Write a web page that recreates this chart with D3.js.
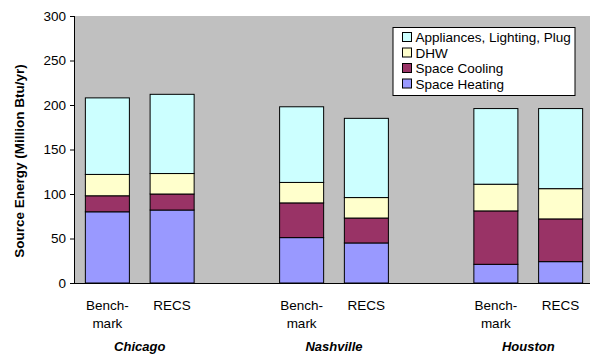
<!DOCTYPE html>
<html>
<head>
<meta charset="utf-8">
<script src="https://cdn.jsdelivr.net/npm/d3@7"></script>
<style>
  html, body { margin: 0; padding: 0; background: #fff; }
  svg { display: block; font-family: "Liberation Sans", Arial, sans-serif; }
</style>
</head>
<body>
<svg id="chart" width="590" height="354"></svg>
<script>
// Category slots (blank slots separate the cities)
const slots = ["CHI-B", "CHI-R", "gap1", "NAS-B", "NAS-R", "gap2", "HOU-B", "HOU-R"];
const barSlots = ["CHI-B", "CHI-R", "NAS-B", "NAS-R", "HOU-B", "HOU-R"];
const barLabels = [["Bench-", "mark"], ["RECS"], ["Bench-", "mark"], ["RECS"], ["Bench-", "mark"], ["RECS"]];
const cities = ["Chicago", "Nashville", "Houston"];
const citySlots = [["CHI-B", "CHI-R"], ["NAS-B", "NAS-R"], ["HOU-B", "HOU-R"]];

// End-use series, Million Btu/yr, stacked bottom to top
const seriesNames = ["Space Heating", "Space Cooling", "DHW", "Appliances, Lighting, Plug"];
const spaceHeating = [80, 82, 51, 45, 21, 24];
const spaceCooling = [18, 18, 39, 28, 60, 48];
const dhw = [24, 23, 23, 23, 30, 34];
const appliances = [86, 89, 85, 89, 85, 90];
const seriesColors = ["#9999FF", "#993366", "#FFFFCC", "#CCFFFF"];

const yTicks = [0, 50, 100, 150, 200, 250, 300];

const svg = d3.select("#chart");
const plot = { left: 75, right: 593, top: 16, bottom: 283 };

const x = d3.scaleBand().domain(slots).range([plot.left, plot.right]).paddingInner(0.32).paddingOuter(0.16);
const y = d3.scaleLinear().domain([0, 300]).range([plot.bottom, plot.top]);

// Plot background
svg.append("rect")
  .attr("x", plot.left).attr("y", plot.top)
  .attr("width", plot.right - plot.left).attr("height", plot.bottom - plot.top)
  .attr("fill", "#C0C0C0");

// Stacked data
const rows = barSlots.map((s, i) => ({
  slot: s,
  "Space Heating": spaceHeating[i],
  "Space Cooling": spaceCooling[i],
  "DHW": dhw[i],
  "Appliances, Lighting, Plug": appliances[i]
}));
const stack = d3.stack().keys(seriesNames)(rows);

const layers = svg.append("g").selectAll("g")
  .data(stack).join("g")
  .attr("fill", (d, i) => seriesColors[i]);

layers.selectAll("rect")
  .data(d => d).join("rect")
  .attr("x", d => x(d.data.slot))
  .attr("width", x.bandwidth())
  .attr("y", d => y(d[1]))
  .attr("height", d => y(d[0]) - y(d[1]))
  .attr("stroke", "#000")
  .attr("stroke-width", 1);

// Y axis
const yAxis = d3.axisLeft(y).tickValues(yTicks).tickSize(5).tickPadding(4);
const yg = svg.append("g").attr("transform", `translate(${plot.left},0)`).call(yAxis);
yg.select(".domain").attr("stroke", "#000").attr("d", `M-0.5,${plot.top}V${plot.bottom}`);
yg.selectAll(".tick line").attr("stroke", "#000");
yg.selectAll(".tick text").attr("font-size", 13.5).attr("fill", "#000")
  .attr("font-family", "Liberation Sans, Arial, sans-serif");

// X baseline
svg.append("line")
  .attr("x1", plot.left - 5).attr("x2", plot.right)
  .attr("y1", plot.bottom + 0.5).attr("y2", plot.bottom + 0.5)
  .attr("stroke", "#000");

// Bar labels
barSlots.forEach((s, i) => {
  const t = svg.append("text")
    .attr("x", x(s) + x.bandwidth() / 2)
    .attr("y", 309.5)
    .attr("text-anchor", "middle")
    .attr("font-size", 13.5);
  barLabels[i].forEach((line, j) => {
    t.append("tspan").attr("x", x(s) + x.bandwidth() / 2).attr("dy", j === 0 ? 0 : 18.5).text(line);
  });
});

// City labels
cities.forEach((c, i) => {
  const [a, b] = citySlots[i];
  const cx = (x(a) + x(b) + x.bandwidth()) / 2;
  svg.append("text")
    .attr("x", cx).attr("y", 351)
    .attr("text-anchor", "middle")
    .attr("font-size", 13)
    .attr("font-weight", "bold")
    .attr("font-style", "italic")
    .text(c);
});

// Y axis title
svg.append("text")
  .attr("transform", `translate(24,161) rotate(-90)`)
  .attr("text-anchor", "middle")
  .attr("font-size", 13.5)
  .attr("font-weight", "bold")
  .text("Source Energy (Million Btu/yr)");

// Legend
const legend = svg.append("g").attr("transform", "translate(393,27.5)");
legend.append("rect")
  .attr("width", 182).attr("height", 68)
  .attr("fill", "#fff").attr("stroke", "#000");
const legendOrder = [3, 2, 1, 0];
legendOrder.forEach((k, i) => {
  const gy = 9.5 + i * 15.5;
  legend.append("rect")
    .attr("x", 9.5).attr("y", gy - 4.5)
    .attr("width", 9).attr("height", 9)
    .attr("fill", seriesColors[k]).attr("stroke", "#000");
  legend.append("text")
    .attr("x", 22.5).attr("y", gy + 5)
    .attr("font-size", 13.5)
    .text(seriesNames[k]);
});
</script>
</body>
</html>
